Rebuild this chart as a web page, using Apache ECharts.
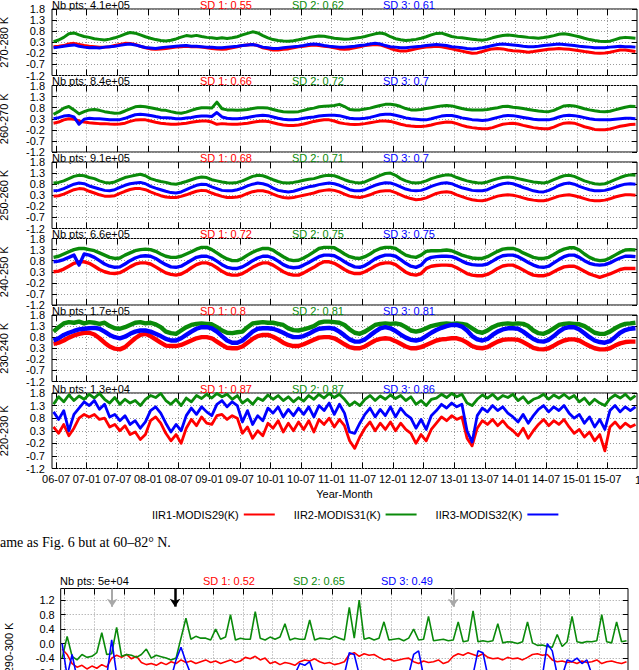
<!DOCTYPE html>
<html lang="en">
<head>
<meta charset="UTF-8">
<title>IIR - MODIS</title>
<script src="https://cdn.jsdelivr.net/npm/echarts@6/dist/echarts.min.js"></script>
<style>
  html, body { margin: 0; padding: 0; background: #fff; }
  #main { width: 639px; height: 670px; }
</style>
</head>
<body>
<div id="main"></div>
<script>
// monthly values, Jun 2006 .. Dec 2015 (one row per year)
var MONTH0 = 5.5; // mid-June 2006, in months since Jan 2006

var panelNames = ['270-280 K', '260-270 K', '250-260 K', '240-250 K', '230-240 K', '220-230 K'];
var nbPts = ['4.1e+05', '8.4e+05', '9.1e+05', '6.6e+05', '1.7e+05', '1.3e+04'];
var sd1 = ['0.55', '0.66', '0.68', '0.72', '0.8', '0.87'];
var sd2 = ['0.62', '0.72', '0.71', '0.75', '0.81', '0.87'];
var sd3 = ['0.61', '0.7', '0.7', '0.75', '0.81', '0.86'];

var seriesNames = ['IIR1-MODIS29(K)', 'IIR2-MODIS31(K)', 'IIR3-MODIS32(K)'];

var xTicks = [6, 12, 18, 24, 30, 36, 42, 48, 54, 60, 66, 72, 78, 84, 90, 96, 102, 108, 114];
var yTicks = [-1.2, -0.7, -0.2, 0.3, 0.8, 1.3, 1.8];
var lowYTicks = [-1.6, -1.2, -0.8, -0.4, 0, 0.4, 0.8, 1.2];

// 270-280 K
var p1Red = [0.10, 0.12, 0.15, 0.22, 0.25, 0.20, 0.15,
  0.12, 0.10, 0.08, 0.08, 0.10, 0.15, 0.20, 0.25, 0.24, 0.20, 0.12, 0.05,
  0.00, -0.02, 0.00, 0.02, 0.05, 0.08, 0.10, 0.12, 0.10, 0.10, 0.08, 0.05,
  0.02, 0.00, -0.02, 0.00, 0.05, 0.10, 0.15, 0.18, 0.20, 0.15, 0.05, 0.00,
  -0.05, -0.05, -0.02, 0.00, 0.05, 0.10, 0.12, 0.15, 0.18, 0.15, 0.12, 0.10,
  0.05, 0.00, -0.02, 0.00, 0.05, 0.10, 0.15, 0.18, 0.20, 0.18, 0.10, 0.02,
  -0.05, -0.10, -0.10, -0.05, 0.00, 0.05, 0.08, 0.10, 0.12, 0.10, 0.05, 0.00,
  -0.05, -0.10, -0.15, -0.20, -0.18, -0.12, -0.05, 0.00, 0.02, 0.00, -0.05, -0.08,
  -0.10, -0.12, -0.15, -0.12, -0.08, -0.05, -0.02, 0.00, 0.02, 0.00, -0.02, -0.05,
  -0.08, -0.12, -0.15, -0.18, -0.20, -0.18, -0.15, -0.10, -0.05, -0.05, -0.08, -0.12];
var p1Green = [0.33, 0.40, 0.52, 0.68, 0.72, 0.63, 0.56,
  0.52, 0.46, 0.43, 0.40, 0.44, 0.50, 0.58, 0.67, 0.74, 0.71, 0.63, 0.55,
  0.48, 0.42, 0.38, 0.36, 0.39, 0.45, 0.53, 0.60, 0.57, 0.61, 0.56, 0.52,
  0.50, 0.47, 0.50, 0.47, 0.50, 0.55, 0.63, 0.70, 0.77, 0.72, 0.60, 0.50,
  0.42, 0.38, 0.36, 0.35, 0.37, 0.41, 0.46, 0.51, 0.55, 0.58, 0.57, 0.53,
  0.48, 0.46, 0.44, 0.45, 0.48, 0.51, 0.56, 0.62, 0.68, 0.72, 0.67, 0.55,
  0.46, 0.41, 0.38, 0.40, 0.43, 0.48, 0.55, 0.63, 0.70, 0.71, 0.64, 0.56,
  0.52, 0.50, 0.47, 0.44, 0.41, 0.39, 0.43, 0.50, 0.56, 0.60, 0.63, 0.60,
  0.57, 0.55, 0.52, 0.50, 0.48, 0.51, 0.55, 0.60, 0.66, 0.68, 0.65, 0.60,
  0.55, 0.48, 0.42, 0.38, 0.35, 0.33, 0.35, 0.42, 0.49, 0.52, 0.50, 0.48];
var p1Blue = [0.05, 0.08, 0.12, 0.15, 0.18, 0.12, 0.08,
  0.05, 0.06, 0.04, 0.08, 0.10, 0.12, 0.16, 0.20, 0.22, 0.18, 0.12, 0.06,
  0.04, 0.02, 0.05, 0.08, 0.10, 0.12, 0.14, 0.15, 0.12, 0.12, 0.10, 0.08,
  0.08, 0.05, 0.05, 0.08, 0.10, 0.12, 0.15, 0.18, 0.20, 0.15, 0.08, 0.05,
  0.02, 0.02, 0.05, 0.08, 0.10, 0.12, 0.15, 0.20, 0.22, 0.20, 0.15, 0.12,
  0.10, 0.08, 0.08, 0.10, 0.12, 0.15, 0.18, 0.22, 0.25, 0.22, 0.15, 0.10,
  0.08, 0.05, 0.05, 0.08, 0.10, 0.12, 0.15, 0.18, 0.20, 0.18, 0.15, 0.10,
  0.08, 0.05, 0.02, 0.00, 0.02, 0.05, 0.10, 0.15, 0.20, 0.22, 0.20, 0.18,
  0.15, 0.12, 0.10, 0.10, 0.12, 0.15, 0.18, 0.20, 0.22, 0.20, 0.18, 0.15,
  0.12, 0.10, 0.08, 0.05, 0.05, 0.05, 0.08, 0.10, 0.12, 0.10, 0.10, 0.08];

// 260-270 K
var p2Red = [0.10, 0.15, 0.25, 0.30, 0.28, 0.20, 0.15,
  0.12, 0.10, 0.08, 0.08, 0.06, 0.05, 0.06, 0.10, 0.18, 0.24, 0.26, 0.25,
  0.20, 0.14, 0.10, 0.07, 0.05, 0.05, 0.07, 0.10, 0.14, 0.18, 0.20, 0.20,
  0.15, 0.05, 0.08, 0.06, 0.05, 0.05, 0.07, 0.10, 0.14, 0.18, 0.20, 0.18,
  0.12, 0.06, 0.02, 0.00, 0.00, 0.02, 0.06, 0.12, 0.18, 0.22, 0.25, 0.25,
  0.20, 0.12, 0.08, 0.05, 0.04, 0.05, 0.08, 0.12, 0.16, 0.20, 0.20, 0.18,
  0.12, 0.05, 0.00, -0.03, -0.05, -0.05, -0.03, 0.02, 0.08, 0.12, 0.15, 0.14,
  0.08, 0.00, -0.06, -0.10, -0.13, -0.15, -0.15, -0.10, -0.02, 0.05, 0.08, 0.10,
  0.06, 0.00, -0.05, -0.10, -0.13, -0.15, -0.15, -0.08, 0.02, 0.10, 0.12, 0.10,
  0.02, -0.06, -0.12, -0.18, -0.20, -0.20, -0.16, -0.10, -0.04, 0.00, 0.04, 0.05];
var p2Green = [0.50, 0.62, 0.78, 0.85, 0.70, 0.52, 0.62,
  0.70, 0.72, 0.68, 0.62, 0.58, 0.55, 0.56, 0.65, 0.75, 0.84, 0.86, 0.84,
  0.80, 0.75, 0.70, 0.68, 0.62, 0.57, 0.55, 0.60, 0.68, 0.75, 0.80, 0.80,
  0.78, 1.05, 0.75, 0.70, 0.70, 0.68, 0.70, 0.72, 0.76, 0.80, 0.80, 0.78,
  0.72, 0.66, 0.62, 0.60, 0.60, 0.62, 0.68, 0.74, 0.78, 0.84, 0.86, 0.88,
  0.90, 0.95, 0.85, 0.72, 0.70, 0.70, 0.74, 0.78, 0.84, 0.90, 0.95, 0.95,
  0.92, 0.85, 0.76, 0.70, 0.70, 0.72, 0.76, 0.80, 0.84, 0.88, 0.90, 0.88,
  0.82, 0.76, 0.72, 0.70, 0.70, 0.70, 0.72, 0.76, 0.80, 0.85, 0.86, 0.82,
  0.80, 0.76, 0.72, 0.68, 0.65, 0.63, 0.62, 0.68, 0.78, 0.88, 0.90, 0.88,
  0.82, 0.75, 0.70, 0.66, 0.63, 0.62, 0.64, 0.70, 0.76, 0.82, 0.86, 0.85];
var p2Blue = [0.30, 0.35, 0.42, 0.45, 0.38, 0.05, 0.28,
  0.32, 0.30, 0.30, 0.28, 0.26, 0.25, 0.26, 0.32, 0.40, 0.48, 0.50, 0.48,
  0.45, 0.40, 0.36, 0.35, 0.33, 0.30, 0.30, 0.33, 0.36, 0.40, 0.42, 0.42,
  0.40, 0.58, 0.38, 0.32, 0.30, 0.30, 0.32, 0.36, 0.40, 0.44, 0.46, 0.44,
  0.38, 0.32, 0.28, 0.25, 0.26, 0.28, 0.32, 0.36, 0.38, 0.42, 0.45, 0.46,
  0.46, 0.44, 0.38, 0.32, 0.30, 0.30, 0.32, 0.36, 0.42, 0.48, 0.50, 0.50,
  0.46, 0.40, 0.34, 0.30, 0.28, 0.26, 0.25, 0.30, 0.36, 0.42, 0.45, 0.45,
  0.40, 0.34, 0.30, 0.26, 0.24, 0.22, 0.24, 0.30, 0.36, 0.42, 0.45, 0.44,
  0.40, 0.36, 0.32, 0.28, 0.26, 0.25, 0.25, 0.30, 0.38, 0.44, 0.46, 0.44,
  0.40, 0.35, 0.30, 0.27, 0.25, 0.25, 0.26, 0.28, 0.30, 0.32, 0.32, 0.30];

// 250-260 K
var p3Red = [0.25, 0.28, 0.35, 0.45, 0.55, 0.60, 0.58,
  0.48, 0.40, 0.32, 0.26, 0.25, 0.28, 0.38, 0.48, 0.56, 0.60, 0.60, 0.55,
  0.45, 0.36, 0.28, 0.22, 0.20, 0.20, 0.25, 0.32, 0.40, 0.48, 0.52, 0.50,
  0.40, 0.32, 0.25, 0.20, 0.20, 0.22, 0.28, 0.38, 0.46, 0.50, 0.50, 0.45,
  0.35, 0.26, 0.20, 0.18, 0.20, 0.25, 0.30, 0.35, 0.40, 0.48, 0.52, 0.55,
  0.52, 0.45, 0.35, 0.26, 0.22, 0.20, 0.25, 0.32, 0.42, 0.48, 0.50, 0.50,
  0.42, 0.32, 0.22, 0.15, 0.10, 0.12, 0.18, 0.28, 0.38, 0.44, 0.46, 0.42,
  0.32, 0.24, 0.16, 0.10, 0.06, 0.05, 0.10, 0.18, 0.26, 0.30, 0.32, 0.30,
  0.25, 0.18, 0.12, 0.08, 0.05, 0.05, 0.10, 0.18, 0.26, 0.30, 0.32, 0.28,
  0.22, 0.15, 0.08, 0.05, 0.05, 0.08, 0.14, 0.22, 0.28, 0.32, 0.32, 0.30];
var p3Green = [0.85, 0.88, 0.95, 1.05, 1.15, 1.20, 1.18,
  1.10, 1.05, 0.95, 0.88, 0.85, 0.90, 1.00, 1.10, 1.15, 1.20, 1.25, 1.18,
  1.05, 0.98, 0.92, 0.88, 0.82, 0.80, 0.85, 0.92, 1.00, 1.08, 1.12, 1.10,
  1.00, 0.95, 0.90, 0.86, 0.85, 0.88, 0.95, 1.05, 1.15, 1.20, 1.18, 1.10,
  1.00, 0.92, 0.86, 0.85, 0.88, 0.92, 0.98, 1.02, 1.05, 1.12, 1.18, 1.20,
  1.18, 1.10, 1.00, 0.92, 0.88, 0.85, 0.90, 1.00, 1.10, 1.20, 1.28, 1.30,
  1.20, 1.05, 0.95, 0.88, 0.85, 0.88, 0.95, 1.05, 1.12, 1.18, 1.22, 1.20,
  1.10, 1.02, 0.95, 0.90, 0.86, 0.85, 0.90, 0.98, 1.05, 1.10, 1.12, 1.10,
  1.05, 1.00, 0.95, 0.90, 0.88, 0.85, 0.90, 1.00, 1.10, 1.18, 1.20, 1.15,
  1.05, 0.95, 0.88, 0.82, 0.80, 0.82, 0.90, 1.00, 1.10, 1.18, 1.22, 1.20];
var p3Blue = [0.50, 0.52, 0.60, 0.70, 0.80, 0.85, 0.82,
  0.72, 0.65, 0.58, 0.52, 0.50, 0.55, 0.65, 0.75, 0.82, 0.85, 0.88, 0.82,
  0.70, 0.62, 0.55, 0.48, 0.42, 0.40, 0.45, 0.55, 0.65, 0.75, 0.80, 0.78,
  0.68, 0.60, 0.52, 0.50, 0.50, 0.55, 0.62, 0.72, 0.80, 0.85, 0.82, 0.75,
  0.62, 0.52, 0.48, 0.45, 0.48, 0.55, 0.62, 0.68, 0.72, 0.78, 0.82, 0.85,
  0.82, 0.75, 0.65, 0.55, 0.50, 0.50, 0.55, 0.65, 0.75, 0.82, 0.86, 0.85,
  0.78, 0.68, 0.58, 0.52, 0.50, 0.52, 0.60, 0.70, 0.78, 0.84, 0.86, 0.82,
  0.72, 0.64, 0.58, 0.52, 0.50, 0.50, 0.55, 0.65, 0.75, 0.82, 0.85, 0.82,
  0.74, 0.65, 0.58, 0.50, 0.46, 0.45, 0.52, 0.62, 0.74, 0.82, 0.85, 0.80,
  0.70, 0.62, 0.55, 0.50, 0.50, 0.52, 0.58, 0.66, 0.74, 0.80, 0.82, 0.80];

// 240-250 K
var p4Red = [0.30, 0.33, 0.42, 0.55, 0.68, 0.75, 0.75,
  0.68, 0.55, 0.40, 0.30, 0.24, 0.22, 0.26, 0.38, 0.52, 0.64, 0.70, 0.70,
  0.65, 0.52, 0.38, 0.25, 0.18, 0.15, 0.20, 0.32, 0.48, 0.62, 0.70, 0.70,
  0.62, 0.48, 0.32, 0.20, 0.15, 0.15, 0.22, 0.35, 0.50, 0.62, 0.70, 0.70,
  0.60, 0.45, 0.30, 0.20, 0.15, 0.15, 0.25, 0.38, 0.50, 0.65, 0.75, 0.75,
  0.68, 0.55, 0.40, 0.28, 0.22, 0.22, 0.30, 0.42, 0.56, 0.66, 0.70, 0.70,
  0.62, 0.45, 0.28, 0.18, 0.15, 0.22, 0.45, 0.55, 0.58, 0.60, 0.60, 0.58,
  0.48, 0.35, 0.22, 0.15, 0.12, 0.12, 0.18, 0.30, 0.45, 0.56, 0.60, 0.60,
  0.50, 0.38, 0.25, 0.15, 0.12, 0.12, 0.18, 0.30, 0.42, 0.52, 0.55, 0.55,
  0.45, 0.32, 0.20, 0.12, 0.05, 0.12, 0.20, 0.30, 0.40, 0.45, 0.45, 0.45];
var p4Green = [0.95, 1.00, 1.10, 1.20, 1.30, 1.35, 1.35,
  1.30, 1.25, 1.15, 1.05, 0.95, 0.90, 0.92, 1.05, 1.15, 1.25, 1.30, 1.32,
  1.30, 1.22, 1.10, 1.00, 0.95, 0.95, 1.00, 1.10, 1.20, 1.32, 1.40, 1.40,
  1.30, 1.15, 1.00, 0.88, 0.80, 0.80, 0.90, 1.05, 1.18, 1.28, 1.35, 1.35,
  1.28, 1.12, 0.98, 0.85, 0.80, 0.82, 0.92, 1.05, 1.20, 1.35, 1.40, 1.40,
  1.38, 1.25, 1.10, 0.98, 0.92, 0.90, 0.98, 1.10, 1.25, 1.35, 1.40, 1.40,
  1.35, 1.20, 1.05, 0.98, 0.95, 1.05, 1.22, 1.25, 1.25, 1.26, 1.28, 1.25,
  1.15, 1.05, 0.98, 0.92, 0.90, 0.90, 0.98, 1.10, 1.22, 1.32, 1.35, 1.35,
  1.28, 1.15, 1.05, 0.95, 0.90, 0.90, 0.95, 1.08, 1.22, 1.32, 1.38, 1.38,
  1.28, 1.10, 0.95, 0.85, 0.80, 0.82, 0.92, 1.05, 1.18, 1.28, 1.30, 1.28];
var p4Blue = [0.75, 0.78, 0.85, 0.95, 1.05, 0.60, 1.10,
  1.05, 0.95, 0.80, 0.65, 0.55, 0.50, 0.52, 0.65, 0.80, 0.92, 1.00, 1.02,
  1.00, 0.90, 0.75, 0.62, 0.52, 0.50, 0.55, 0.68, 0.82, 0.95, 1.00, 1.00,
  0.92, 0.78, 0.62, 0.50, 0.45, 0.45, 0.52, 0.65, 0.80, 0.92, 1.00, 1.00,
  0.92, 0.78, 0.62, 0.52, 0.48, 0.50, 0.60, 0.72, 0.85, 0.98, 1.05, 1.05,
  1.02, 0.90, 0.75, 0.62, 0.52, 0.50, 0.58, 0.72, 0.88, 0.98, 1.05, 1.05,
  1.00, 0.85, 0.68, 0.55, 0.50, 0.60, 0.85, 0.95, 0.98, 1.00, 1.00, 0.98,
  0.90, 0.78, 0.68, 0.62, 0.60, 0.60, 0.65, 0.78, 0.92, 1.02, 1.05, 1.05,
  0.98, 0.85, 0.72, 0.60, 0.52, 0.50, 0.55, 0.70, 0.85, 0.98, 1.05, 1.05,
  0.95, 0.80, 0.68, 0.62, 0.60, 0.62, 0.70, 0.82, 0.92, 1.00, 1.00, 0.98];

// 230-240 K
var p5Red = [0.50, 0.55, 0.65, 0.78, 0.88, 0.95, 1.00,
  1.00, 0.92, 0.75, 0.55, 0.38, 0.28, 0.25, 0.35, 0.55, 0.75, 0.90, 0.95,
  0.85, 0.70, 0.55, 0.42, 0.40, 0.40, 0.45, 0.55, 0.65, 0.75, 0.80, 0.80,
  0.75, 0.60, 0.45, 0.32, 0.30, 0.30, 0.38, 0.55, 0.72, 0.85, 0.90, 0.90,
  0.82, 0.70, 0.55, 0.45, 0.40, 0.40, 0.48, 0.58, 0.68, 0.78, 0.80, 0.80,
  0.75, 0.62, 0.48, 0.35, 0.30, 0.30, 0.38, 0.52, 0.65, 0.72, 0.75, 0.72,
  0.62, 0.50, 0.38, 0.30, 0.30, 0.35, 0.45, 0.55, 0.65, 0.70, 0.72, 0.75,
  0.75, 0.68, 0.55, 0.40, 0.32, 0.30, 0.35, 0.48, 0.60, 0.68, 0.70, 0.70,
  0.68, 0.58, 0.45, 0.32, 0.26, 0.25, 0.30, 0.42, 0.55, 0.65, 0.70, 0.70,
  0.65, 0.52, 0.40, 0.30, 0.25, 0.25, 0.30, 0.42, 0.52, 0.58, 0.60, 0.60];
var p5Green = [1.05, 1.25, 1.42, 1.48, 1.45, 1.50, 1.42,
  1.48, 1.45, 1.40, 1.45, 1.30, 1.20, 1.18, 1.25, 1.35, 1.45, 1.48, 1.42,
  1.45, 1.38, 1.25, 1.05, 0.98, 0.95, 1.10, 1.25, 1.35, 1.40, 1.42, 1.40,
  1.38, 1.25, 1.10, 1.00, 0.98, 1.02, 1.05, 1.25, 1.42, 1.45, 1.48, 1.45,
  1.45, 1.40, 1.35, 1.20, 1.12, 1.10, 1.15, 1.22, 1.30, 1.45, 1.50, 1.50,
  1.48, 1.45, 1.35, 1.15, 1.00, 0.95, 1.05, 1.20, 1.35, 1.40, 1.42, 1.40,
  1.42, 1.38, 1.25, 1.10, 1.05, 1.10, 1.20, 1.30, 1.35, 1.40, 1.42, 1.40,
  1.42, 1.40, 1.35, 1.20, 1.05, 1.00, 1.10, 1.25, 1.35, 1.40, 1.42, 1.40,
  1.42, 1.40, 1.30, 1.10, 0.98, 0.95, 1.05, 1.20, 1.35, 1.40, 1.42, 1.40,
  1.38, 1.30, 1.15, 1.00, 0.95, 0.95, 1.05, 1.20, 1.32, 1.40, 1.42, 1.45];
var p5Blue = [0.65, 0.75, 0.90, 1.00, 1.08, 1.15, 1.18,
  1.20, 1.22, 1.18, 1.05, 0.90, 0.80, 0.75, 0.82, 0.95, 1.05, 1.10, 1.10,
  1.05, 0.95, 0.85, 0.72, 0.65, 0.65, 0.75, 0.90, 1.05, 1.18, 1.25, 1.25,
  1.20, 1.05, 0.85, 0.65, 0.55, 0.55, 0.65, 0.85, 1.05, 1.18, 1.20, 1.20,
  1.18, 1.10, 1.00, 0.88, 0.80, 0.80, 0.85, 0.95, 1.08, 1.18, 1.20, 1.22,
  1.18, 1.05, 0.88, 0.70, 0.60, 0.60, 0.70, 0.88, 1.05, 1.20, 1.25, 1.20,
  1.08, 0.92, 0.78, 0.68, 0.65, 0.70, 0.85, 1.00, 1.12, 1.22, 1.30, 1.35,
  1.35, 1.28, 1.10, 0.85, 0.70, 0.65, 0.72, 0.90, 1.05, 1.15, 1.20, 1.20,
  1.18, 1.05, 0.88, 0.72, 0.62, 0.60, 0.68, 0.85, 1.05, 1.20, 1.25, 1.25,
  1.15, 0.98, 0.80, 0.65, 0.58, 0.55, 0.62, 0.80, 1.00, 1.12, 1.18, 1.20];

// 220-230 K
var p6Red = [0.45, 0.20, 0.55, 0.10, 0.40, 0.80, 0.95,
  0.85, 0.95, 0.75, 0.80, 0.45, 0.55, 0.30, 0.50, 0.15, 0.25, -0.05, 0.15,
  0.70, 0.85, 0.60, 0.20, -0.10, 0.15, -0.20, 0.40, 0.75, 0.50, 0.85, 0.60,
  0.55, 0.90, 0.95, 0.75, 0.90, 0.80, 0.20, 0.45, 0.00, 0.30, 0.10, 0.60,
  0.40, 0.70, 0.25, 0.60, 0.30, 0.65, 0.35, 0.70, 0.25, 0.75, 0.55, 0.80,
  0.45, 0.75, 0.50, -0.10, -0.40, 0.05, 0.40, 0.65, 0.30, 0.60, 0.35, 0.65,
  0.30, 0.60, 0.35, 0.20, -0.20, 0.15, -0.10, 0.35, 0.60, 0.85, 0.70, 0.90,
  0.75, 0.85, 0.00, -0.30, 0.40, 0.70, 0.55, 0.75, 0.50, 0.70, 0.45, 0.30,
  0.10, 0.40, 0.00, 0.30, 0.55, 0.75, 0.50, 0.70, 0.55, 0.75, 0.45, 0.20,
  0.35, 0.05, 0.25, -0.10, 0.15, -0.50, 0.45, 0.65, 0.40, 0.60, 0.45, 0.55];
var p6Green = [1.35, 1.65, 1.45, 1.72, 1.50, 1.68, 1.55,
  1.75, 1.60, 1.78, 1.55, 1.40, 1.62, 1.35, 1.55, 1.40, 1.50, 1.30, 1.55,
  1.70, 1.62, 1.78, 1.50, 1.35, 1.55, 1.30, 1.60, 1.45, 1.70, 1.58, 1.75,
  1.60, 1.78, 1.65, 1.75, 1.55, 1.70, 1.40, 1.55, 1.35, 1.60, 1.50, 1.72,
  1.55, 1.70, 1.50, 1.65, 1.45, 1.62, 1.48, 1.70, 1.55, 1.75, 1.60, 1.78,
  1.62, 1.75, 1.55, 1.30, 1.45, 1.30, 1.55, 1.70, 1.50, 1.68, 1.55, 1.72,
  1.58, 1.70, 1.50, 1.65, 1.35, 1.50, 1.30, 1.55, 1.60, 1.75, 1.62, 1.78,
  1.65, 1.75, 1.40, 1.30, 1.55, 1.72, 1.60, 1.75, 1.55, 1.70, 1.62, 1.75,
  1.50, 1.65, 1.40, 1.55, 1.62, 1.75, 1.55, 1.72, 1.60, 1.75, 1.58, 1.70,
  1.45, 1.60, 1.35, 1.55, 1.40, 1.30, 1.58, 1.72, 1.60, 1.75, 1.55, 1.70];
var p6Blue = [1.05, 0.75, 1.10, 0.30, 0.95, 1.20, 1.45,
  1.30, 1.50, 1.15, 1.35, 0.85, 0.95, 0.70, 0.90, 0.55, 0.70, 0.40, 0.65,
  1.10, 1.25, 1.00, 0.60, 0.25, 0.55, 0.30, 0.90, 1.20, 0.95, 1.25, 1.05,
  0.90, 1.35, 1.50, 1.25, 1.45, 1.30, 0.65, 1.10, 0.55, 0.90, 0.70, 1.20,
  1.00, 1.25, 0.85, 1.15, 0.90, 1.20, 0.95, 1.25, 0.85, 1.30, 1.10, 1.40,
  0.95, 1.35, 1.00, 0.25, 0.20, 0.60, 0.95, 1.20, 0.85, 1.15, 0.90, 1.25,
  0.85, 1.20, 0.95, 0.80, 0.40, 0.75, 0.35, 0.90, 1.10, 1.35, 1.20, 1.40,
  1.25, 1.35, 0.30, -0.15, 0.90, 1.20, 1.05, 1.30, 1.10, 1.25, 1.00, 0.85,
  0.65, 0.95, 0.60, 0.90, 1.15, 1.30, 1.05, 1.25, 1.10, 1.30, 1.00, 0.80,
  0.95, 0.60, 0.85, 0.45, 0.75, 0.35, 1.10, 1.30, 1.05, 1.25, 1.10, 1.25];

// second figure, 290-300 K (only its top is in view)
var lowNames = ['Nb pts: 5e+04', 'SD 1: 0.52', 'SD 2: 0.65', 'SD 3: 0.49'];
var lowRed = [-0.15, -0.30, -0.55, -0.65, -0.60, -0.70, -0.62,
  -0.68, -0.58, -0.65, -0.40, -0.32, -0.38, -0.30, -0.42, -0.35, -0.52, -0.58, -0.55,
  -0.60, -0.52, -0.58, -0.50, -0.55, -0.45, -0.52, -0.48, -0.55, -0.50, -0.45, -0.52,
  -0.48, -0.55, -0.50, -0.45, -0.52, -0.48, -0.38, -0.42, -0.35, -0.45, -0.40, -0.55,
  -0.50, -0.58, -0.52, -0.55, -0.60, -0.50, -0.45, -0.48, -0.42, -0.50, -0.55, -0.52,
  -0.58, -0.55, -0.50, -0.30, -0.25, -0.35, -0.28, -0.32, -0.30, -0.38, -0.45, -0.42,
  -0.48, -0.45, -0.42, -0.40, -0.50, -0.55, -0.48, -0.52, -0.50, -0.45, -0.55, -0.50,
  -0.35, -0.28, -0.32, -0.25, -0.30, -0.35, -0.28, -0.38, -0.42, -0.40, -0.45, -0.38,
  -0.42, -0.40, -0.45, -0.38, -0.30, -0.28, -0.32, -0.30, -0.45, -0.50, -0.48, -0.52,
  -0.50, -0.55, -0.48, -0.52, -0.50, -0.45, -0.55, -0.50, -0.48, -0.52, -0.55, -0.50];
var lowGreen = [-0.40, 0.20, -0.35, -0.45, -0.30, -0.38, -0.35,
  -0.25, 0.30, -0.30, -0.28, 0.45, -0.35, -0.30, -0.32, -0.38, -0.30, -0.15, -0.40,
  -0.32, -0.36, -0.40, -0.45, -0.40, 0.15, 0.70, 0.12, 0.20, 0.15, 0.15, 0.10,
  0.40, 0.12, 0.18, 0.80, 0.10, 0.15, 0.12, 0.12, 0.88, 0.15, 0.10, 0.18,
  0.12, 0.18, 0.55, 0.10, 0.15, 0.12, 0.12, 0.65, 0.10, 0.15, 0.14, 0.12,
  0.20, 0.15, 0.10, 1.00, 0.15, 1.20, 0.12, 0.16, 0.10, 0.15, 0.60, 0.10,
  0.12, 0.14, 0.08, 0.15, 0.40, 0.10, 0.12, 0.75, 0.08, 0.10, 0.12, 0.08,
  0.10, 0.60, 0.05, 0.08, 0.90, 0.05, 0.08, 0.05, 0.08, 0.55, 0.02, 0.05,
  0.04, 0.00, 0.05, 0.60, 0.02, -0.05, -0.04, -0.08, -0.10, 0.25, -0.08, 0.05,
  0.75, 0.05, 0.02, 0.06, 0.05, 0.08, 0.80, 0.05, 0.02, 0.60, 0.05, 0.08];
var lowBlue = [0.00, -0.90, -0.30, -0.95, -1.00, -0.90, -0.95,
  -1.00, -0.95, -0.90, 0.10, -0.85, -0.95, -1.00, -0.90, -0.95, -1.00, -0.90, -0.95,
  -1.00, -0.95, -0.90, -0.95, -0.45, -0.10, -0.50, -0.85, -0.95, -0.90, -1.00, -0.95,
  -0.90, -0.95, -1.00, -0.90, -0.95, -0.85, -0.90, -0.95, -1.00, -0.90, -0.95, -0.90,
  -0.95, -1.00, -0.90, -0.95, -0.85, -0.55, -0.60, -0.50, -0.90, -0.95, -0.85, -0.90,
  -0.95, -0.90, -0.85, -0.25, -0.30, -0.85, -0.95, -0.90, -1.00, -0.90, -0.95, -0.90,
  -0.95, -0.90, -1.00, -0.85, -0.30, -0.20, -0.90, -0.95, -0.90, -1.00, -0.95, -0.90,
  -0.95, -1.00, -0.90, -0.95, -0.85, -0.20, -0.25, -0.90, -0.95, -0.90, -1.00, -0.95,
  -0.90, -0.95, -1.00, -0.90, -0.85, -0.95, -0.90, 0.00, -0.20, -0.85, -0.90, -0.45,
  -0.50, -0.40, -0.55, -0.45, -0.85, -0.90, -0.95, -0.90, -0.85, -0.95, -0.90, -0.85];
// event markers (month index) on the second figure
var arrowMonths = [15.6, 28.3, 84.5];
var arrowColors = ['#a8a8a8', '#000000', '#a8a8a8'];

var panels = [
  [p1Red, p1Green, p1Blue], [p2Red, p2Green, p2Blue], [p3Red, p3Green, p3Blue],
  [p4Red, p4Green, p4Blue], [p5Red, p5Green, p5Blue], [p6Red, p6Green, p6Blue]
];
var lineWidths = [3, 3, 3, 3.4, 4.4, 2.8];

var COLORS = ['#ff0000', '#0a8a0a', '#0000ff'];
var FONT = '"Liberation Sans", Arial, sans-serif';
var X_MIN = 5.2, X_MAX = 119.8;

var gridTops = [9, 85.5, 162, 238.5, 315, 393];
var gridHeights = [66.5, 66.5, 66.5, 66.5, 66.5, 75.5];
var LOW_TOP = 588.5, LOW_MIN = -1.76, LOW_MAX = 1.52;

function pad(n) { return (n < 10 ? '0' : '') + n; }
function fmtMonth(v) {
  return pad(6 + Math.floor(v / 12)) + '-' + pad(v % 12 + 1);
}
function pts(arr) {
  return arr.map(function (v, i) { return [MONTH0 + i, v]; });
}

var grids = [], xAxes = [], yAxes = [], series = [], graphics = [];

function addAxes(g, opt) {
  var tickStyle = { color: '#000', width: 1 };
  var dotted = { color: '#9a9a9a', type: [1, 2], width: 1 };
  var noLine = { show: false, onZero: false };
  xAxes.push({
    gridIndex: g, type: 'value', min: X_MIN, max: X_MAX, position: 'bottom',
    axisLine: noLine,
    axisTick: { show: true, inside: true, length: 6, customValues: xTicks, lineStyle: tickStyle },
    axisLabel: {
      show: !!opt.xLabels, customValues: xTicks, formatter: fmtMonth, margin: 5,
      color: '#000', fontSize: 11, fontFamily: FONT
    },
    splitLine: { show: true, lineStyle: dotted },
    name: opt.xName || '', nameLocation: 'middle', nameGap: 20,
    nameTextStyle: { color: '#000', fontSize: 11, fontFamily: FONT }
  }, {
    gridIndex: g, type: 'value', min: X_MIN, max: X_MAX, position: 'top',
    axisLine: noLine,
    axisTick: { show: true, inside: true, length: 6, customValues: xTicks, lineStyle: tickStyle },
    axisLabel: { show: false }, splitLine: { show: false }
  });
  yAxes.push({
    gridIndex: g, type: 'value', min: opt.min, max: opt.max, position: 'left',
    axisLine: noLine,
    axisTick: { show: true, inside: true, length: 5, customValues: opt.ticks, lineStyle: tickStyle },
    axisLabel: {
      customValues: opt.ticks, margin: opt.labelMargin, color: '#000', fontSize: 11, fontFamily: FONT,
      formatter: function (v) { return v.toFixed(1); }
    },
    splitLine: { show: true, lineStyle: dotted },
    name: opt.name, nameLocation: 'middle', nameRotate: 90, nameGap: opt.nameGap,
    nameTextStyle: { color: '#000', fontSize: 11, fontFamily: FONT }
  }, {
    gridIndex: g, type: 'value', min: opt.min, max: opt.max, position: 'right',
    axisLine: noLine,
    axisTick: { show: true, inside: true, length: 5, customValues: opt.ticks, lineStyle: tickStyle },
    axisLabel: { show: false }, splitLine: { show: false }
  });
}

function addTitles(x0, xs, y, texts) {
  var fills = ['#000'].concat(COLORS);
  [x0].concat(xs).forEach(function (x, k) {
    graphics.push({
      type: 'text', x: x, y: y,
      style: {
        text: texts[k], fill: fills[k], font: '11px ' + FONT,
        textVerticalAlign: 'middle', verticalAlign: 'middle'
      }
    });
  });
}

panels.forEach(function (p, g) {
  grids.push({
    left: 52, width: 585, top: gridTops[g], height: gridHeights[g],
    show: true, borderColor: '#000', borderWidth: 1, backgroundColor: 'transparent',
    outerBoundsMode: 'none'
  });
  addAxes(g, {
    min: -1.2, max: 1.8, ticks: yTicks, name: panelNames[g], nameGap: 43, labelMargin: 7,
    xLabels: g === 5, xName: g === 5 ? 'Year-Month' : ''
  });
  p.forEach(function (arr, s) {
    series.push({
      name: seriesNames[s], type: 'line', xAxisIndex: 2 * g, yAxisIndex: 2 * g,
      data: pts(arr), showSymbol: false, symbol: 'none', silent: true,
      lineStyle: { color: COLORS[s], width: lineWidths[g], join: 'round' },
      itemStyle: { color: COLORS[s] }
    });
  });
  addTitles(52, [200, 292, 383], gridTops[g] - 4.5,
    ['Nb pts: ' + nbPts[g], 'SD 1: ' + sd1[g], 'SD 2: ' + sd2[g], 'SD 3: ' + sd3[g]]);
});

// second figure
grids.push({
  left: 60.7, width: 567.3, top: LOW_TOP, height: (LOW_MAX - LOW_MIN) * 36.25,
  show: true, borderColor: '#000', borderWidth: 1, backgroundColor: 'transparent',
  outerBoundsMode: 'none'
});
addAxes(6, {
  min: LOW_MIN, max: LOW_MAX, ticks: lowYTicks, name: '290-300 K', nameGap: 46, labelMargin: 6
});
[lowRed, lowGreen, lowBlue].forEach(function (arr, s) {
  series.push({
    name: seriesNames[s], type: 'line', xAxisIndex: 12, yAxisIndex: 12,
    data: pts(arr), showSymbol: false, symbol: 'none', silent: true,
    lineStyle: { color: COLORS[s], width: 1.6 }, itemStyle: { color: COLORS[s] }
  });
});
series.push({
  type: 'line', xAxisIndex: 12, yAxisIndex: 12, data: [], silent: true,
  markLine: {
    silent: true, animation: false, symbol: ['none', 'arrow'], symbolSize: 8,
    label: { show: false },
    data: arrowMonths.map(function (m, k) {
      var ls = { color: arrowColors[k], width: k === 1 ? 2.5 : 2, type: 'solid' };
      return [{ coord: [m, LOW_MAX], lineStyle: ls, itemStyle: { color: arrowColors[k] } },
              { coord: [m, 1.02], lineStyle: ls, itemStyle: { color: arrowColors[k] } }];
    })
  }
});
addTitles(60, [203, 293, 381], LOW_TOP - 7.5, lowNames);

// extra label at the right edge of the time axis
graphics.push({
  type: 'text', x: 635, y: 480,
  style: { text: '16-01', fill: '#000', font: '11px ' + FONT, textVerticalAlign: 'middle', verticalAlign: 'middle' }
});
// caption of the figure
graphics.push({
  type: 'text', x: 0, y: 542,
  style: {
    text: 'ame as Fig. 6 but at 60\u201382\u00b0 N.', fill: '#000',
    font: '14px "Liberation Serif", "Times New Roman", serif',
    textVerticalAlign: 'middle', verticalAlign: 'middle'
  }
});

var chart = echarts.init(document.getElementById('main'), null, { renderer: 'svg' });
chart.setOption({
  animation: false,
  backgroundColor: '#fff',
  grid: grids,
  xAxis: xAxes,
  yAxis: yAxes,
  legend: {
    data: seriesNames, left: 147, top: 504, align: 'right', icon: 'rect',
    itemWidth: 31, itemHeight: 2, itemGap: 19, selectedMode: false,
    textStyle: { color: '#000', fontSize: 11, fontFamily: FONT }
  },
  graphic: graphics,
  series: series
});
</script>
</body>
</html>
